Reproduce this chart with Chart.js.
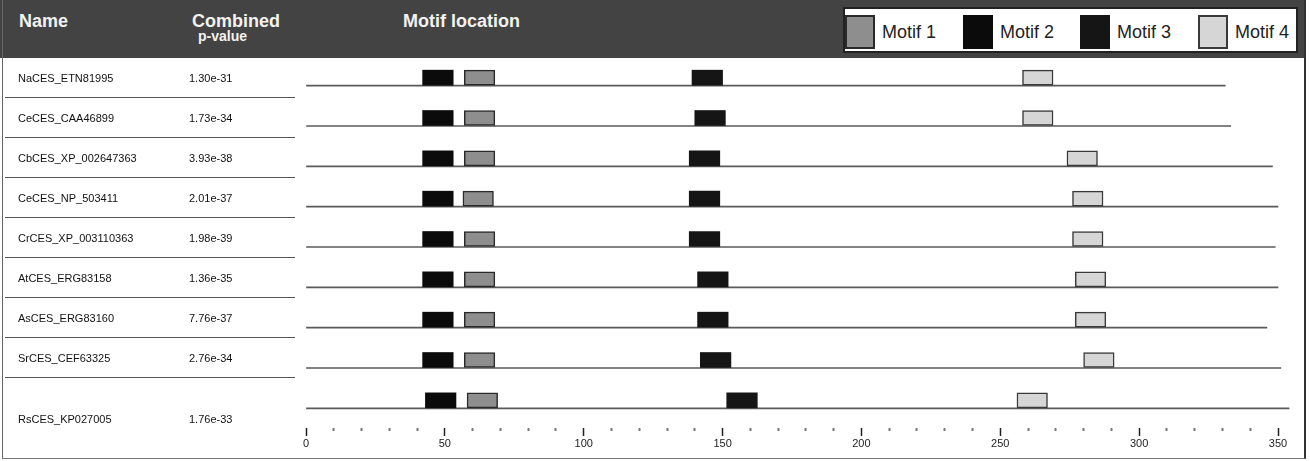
<!DOCTYPE html>
<html>
<head>
<meta charset="utf-8">
<title>Motif location</title>
<script src="https://cdn.jsdelivr.net/npm/chart.js@4.4.1/dist/chart.umd.min.js"></script>
<style>
  html, body { margin: 0; padding: 0; background: #fff; }
  #wrap { position: relative; width: 1310px; height: 461px; overflow: hidden; font-family: 'Liberation Sans', Arial, sans-serif; }
  #chart { position: absolute; left: 0; top: 0; }
  #frame { position: absolute; left: 2px; top: 0; width: 1301px; height: 458px; border-left: 1px solid #666; border-right: 2px solid #333; border-bottom: 1px solid #777; pointer-events: none; }
  #header { position: absolute; left: 0; top: 0; width: 1306px; height: 58px; background: #434343; color: #f2f2f2; font-weight: bold; }
  .hd { position: absolute; font-size: 18px; line-height: 18px; white-space: nowrap; }
  #legend { position: absolute; left: 843px; top: 7px; width: 451px; height: 42px; background: #fff; border: 2px solid #222; }
  .sw { position: absolute; top: 6px; width: 30px; height: 34px; box-sizing: border-box; }
  .lg { position: absolute; top: 14px; font-size: 18px; line-height: 18px; font-weight: normal; color: #222; white-space: nowrap; }
  #table { position: absolute; left: 5px; top: 58px; width: 290px; }
  .row { position: relative; height: 40px; border-bottom: 1px solid #555; box-sizing: border-box; font-size: 11px; color: #111; }
  .row.last { height: 81px; border-bottom: none; }
  .row span { position: absolute; top: 50%; transform: translateY(-50%); white-space: nowrap; }
  .nm { left: 13px; }
  .pv { left: 184px; }
</style>
</head>
<body>
<div id="wrap">
  <canvas id="chart" width="1310" height="461"></canvas>
  <div id="header">
    <div class="hd" style="left:19px; top:12px;">Name</div>
    <div class="hd" style="left:192px; top:12px;">Combined</div>
    <div class="hd" style="left:198px; top:29px; font-size:14px; line-height:14px;">p-value</div>
    <div class="hd" style="left:403px; top:12px;">Motif location</div>
    <div id="legend"></div>
  </div>
  <div id="table"></div>
  <div id="frame"></div>
</div>
<script>
// sequences, top to bottom
const seqNames = ['NaCES_ETN81995', 'CeCES_CAA46899', 'CbCES_XP_002647363', 'CeCES_NP_503411',
  'CrCES_XP_003110363', 'AtCES_ERG83158', 'AsCES_ERG83160', 'SrCES_CEF63325', 'RsCES_KP027005'];
const pValues = ['1.30e-31', '1.73e-34', '3.93e-38', '2.01e-37', '1.98e-39', '1.36e-35', '7.76e-37', '2.76e-34', '1.76e-33'];
const seqLengths = [331, 333, 348, 350, 349, 350, 346, 351, 354];

// motif start positions per sequence
const motif1Starts = [57, 57, 57, 56.5, 57, 57, 57, 57, 58];
const motif2Starts = [42, 42, 42, 42, 42, 42, 42, 42, 43];
const motif3Starts = [139, 140, 138, 138, 138, 141, 141, 142, 151.5];
const motif4Starts = [258, 258, 274, 276, 276, 277, 277, 280, 256];
const motifWidth = 11;

const motifNames = ['Motif 1', 'Motif 2', 'Motif 3', 'Motif 4'];
const xMajorTicks = [0, 50, 100, 150, 200, 250, 300, 350];

const motifFill   = ['#8e8e8e', '#0b0b0b', '#151515', '#d6d6d6'];
const motifBorder = ['#2a2a2a', '#0b0b0b', '#151515', '#3a3a3a'];
const motifBorderW = [1.5, 0, 0, 1.5];

const allStarts = [motif1Starts, motif2Starts, motif3Starts, motif4Starts];

const datasets = motifNames.map((name, i) => ({
  label: name,
  data: allStarts[i].map(s => [s, s + motifWidth]),
  stack: 'motif',
  barThickness: 15,
  backgroundColor: motifFill[i],
  borderColor: motifBorder[i],
  borderWidth: motifBorderW[i],
  borderSkipped: false,
}));

// sequence line, drawn first and sitting under the boxes
datasets.push({
  label: 'Sequence',
  data: seqLengths.map(l => [0, l]),
  stack: 'seq',
  barThickness: 1,
  backgroundColor: '#5a5a5a',
  borderWidth: 0,
  clip: false,
});

const chart = new Chart(document.getElementById('chart'), {
  type: 'bar',
  data: { labels: seqNames, datasets },
  options: {
    indexAxis: 'y',
    responsive: false,
    animation: false,
    layout: { padding: { left: 306, right: 32, top: 65, bottom: 0 } },
    plugins: { legend: { display: false }, tooltip: { enabled: false } },
    scales: {
      y: { display: false },
      x: {
        type: 'linear',
        min: 0,
        max: 350,
        stacked: false,
        border: { display: false },
        grid: {
          drawOnChartArea: false,
          tickLength: 8,
          tickColor: ctx => xMajorTicks.includes(ctx.tick.value) ? '#222' : '#777',
          tickWidth: ctx => xMajorTicks.includes(ctx.tick.value) ? 1.5 : 2,
          tickBorderDash: ctx => xMajorTicks.includes(ctx.tick.value) ? [] : [3, 20],
        },
        ticks: {
          stepSize: 10,
          autoSkip: false,
          maxRotation: 0,
          padding: 1,
          color: '#222',
          font: { family: 'Liberation Sans', size: 11 },
          callback: v => xMajorTicks.includes(v) ? String(v) : '',
        },
        afterFit: s => { s.height = 33; },
      },
    },
  },
});

// legend in the header, from the chart's own datasets
const legend = document.getElementById('legend');
chart.data.datasets.slice(0, motifNames.length).forEach((ds, i) => {
  const left = Math.round(i * 117.7);
  const sw = document.createElement('div');
  sw.className = 'sw';
  sw.style.left = left + 'px';
  sw.style.background = ds.backgroundColor;
  if (ds.borderWidth) sw.style.border = '2px solid ' + ds.borderColor;
  legend.appendChild(sw);
  const t = document.createElement('div');
  t.className = 'lg';
  t.style.left = (left + 37) + 'px';
  t.textContent = ds.label;
  legend.appendChild(t);
});

// name / p-value table
const table = document.getElementById('table');
seqNames.forEach((n, i) => {
  const r = document.createElement('div');
  r.className = 'row' + (i === seqNames.length - 1 ? ' last' : '');
  r.innerHTML = '<span class="nm"></span><span class="pv"></span>';
  r.children[0].textContent = n;
  r.children[1].textContent = pValues[i];
  table.appendChild(r);
});
</script>
</body>
</html>
